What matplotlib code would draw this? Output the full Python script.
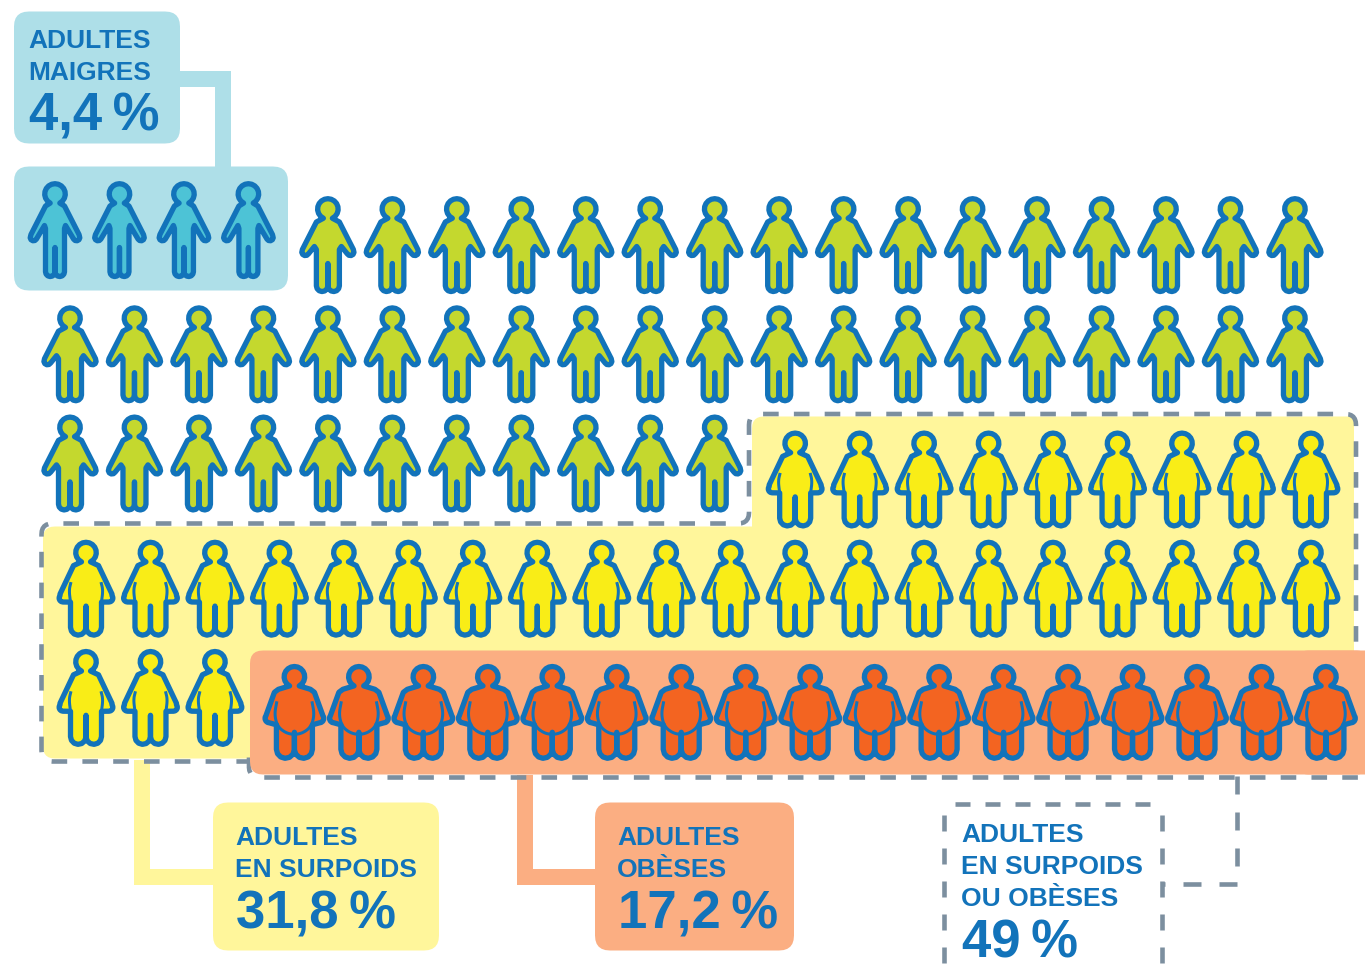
#!/usr/bin/env python3
"""Pictogram: 100 adults by weight class, one icon per percent (rounded)."""

import numpy as np
import matplotlib
matplotlib.use('Agg')
import matplotlib.pyplot as plt
from matplotlib.path import Path
from matplotlib.patches import PathPatch, Polygon

plt.rcParams['font.family'] = ['Liberation Sans', 'DejaVu Sans']

# === Data ===
categories = ['maigres', 'normaux', 'surpoids', 'obeses']
icon_counts = [4, 47, 32, 17]

label_maigres = ['ADULTES', 'MAIGRES']
label_surpoids = ['ADULTES', 'EN SURPOIDS']
label_obeses = ['ADULTES', 'OBÈSES']
label_cumul = ['ADULTES', 'EN SURPOIDS', 'OU OBÈSES']
pct_maigres = '4,4\u2009%'
pct_surpoids = '31,8\u2009%'
pct_obeses = '17,2\u2009%'
pct_cumul = '49\u2009%'

# === Style ===
PX = 72 / 100  # one pixel in points at dpi=100
BLUE = '#1273BA'
GREY = '#7C8F9F'
FILL = {'maigres': '#4DC3D6', 'normaux': '#C4D82E', 'surpoids': '#F9ED17', 'obeses': '#F36421'}
BG_MAIGRES = '#AEDFE8'
BG_SURPOIDS = '#FFF69B'
BG_OBESES = '#FBAE82'
PER_ROW = 20
STEP_X, STEP_Y = 64.47, 109.2
ORIGIN_X, ORIGIN_Y = 55, 182
SHIFT = {'maigres': 0, 'normaux': 15, 'surpoids': 31, 'obeses': 46}
DASH_LW = 4.6


def arc(cx, cy, r, a0, a1, n=9):
    a = np.radians(np.linspace(a0, a1, n))
    return [(cx + r * np.cos(t), cy + r * np.sin(t)) for t in a]


def rounded_path(pts, r, closed=False):
    """Polyline with sampled quadratic corners, r is one radius or one per point."""
    pts = np.asarray(pts, dtype=float)
    n = len(pts)
    rs = np.full(n, r, dtype=float) if np.isscalar(r) else np.asarray(r, dtype=float)
    out = [] if closed else [pts[0]]
    for i in (range(n) if closed else range(1, n - 1)):
        p, a, b = pts[i], pts[i - 1], pts[(i + 1) % n]
        da, db = np.linalg.norm(a - p), np.linalg.norm(b - p)
        c0 = p + (a - p) / da * min(rs[i], da / 2)
        c1 = p + (b - p) / db * min(rs[i], db / 2)
        for t in np.linspace(0, 1, 7):
            out.append((1 - t) ** 2 * c0 + 2 * t * (1 - t) * p + t ** 2 * c1)
    if closed:
        out.append(out[0])
    else:
        out.append(pts[-1])
    return Path(np.array(out), closed=closed)


def mirrored(half):
    # half runs from the top of the head to the crotch, both on x=0
    return half + [(-x, y) for x, y in reversed(half[1:-1])]


# Right half of each silhouette, pixels from the top centre of the icon
SHAPES = {
    'maigres': mirrored(
        arc(0, 12.5, 10.3, -90, 62)
        + [(9.5, 24.5), (24, 53)]
        + arc(21.5, 56, 3.3, -30, 150, 6)
        + [(10.5, 44), (9.5, 47), (9.5, 90.3)]
        + arc(4.75, 90.3, 4.75, 0, 175, 7)
        + [(0, 66)]),
    'normaux': mirrored(
        arc(0, 12.5, 10.3, -90, 64)
        + [(11.5, 25.5), (25.5, 53)]
        + arc(22.5, 55.5, 3.6, -30, 150, 6)
        + [(13.5, 50), (11.5, 53), (11.5, 89.3)]
        + arc(5.75, 89.3, 5.75, 0, 175, 7)
        + [(0, 67)]),
    'surpoids': mirrored(
        arc(0, 12.5, 10.3, -90, 64)
        + [(12.5, 25.5), (26, 54)]
        + arc(23, 58, 3.9, -40, 90, 6)
        + [(15.5, 62), (15.5, 87.3)]
        + arc(7.75, 87.3, 7.75, 0, 175, 7)
        + [(0, 66)]),
    'obeses': mirrored(
        arc(0, 12.5, 10.3, -90, 62)
        + [(16, 25), (20, 28), (28, 50)]
        + arc(24.8, 54, 4.6, -40, 90, 6)
        + [(18, 60.5), (18, 85)]
        + arc(9, 85, 9, 0, 175, 7)
        + [(0, 68)]),
}
# Inner lines (belly against arm)
BELLY = {
    'maigres': [],
    'normaux': [],
    'surpoids': [[(15, 42), (17, 50), (15.5, 62)], [(-15, 42), (-17, 50), (-15.5, 62)]],
    'obeses': [[(17.5, 37), (20, 50), (17, 62), (9, 68.5), (0, 70.5),
                (-9, 68.5), (-17, 62), (-20, 50), (-17.5, 37)]],
}


def draw_icon(ax, kind, x, y):
    verts = np.array(SHAPES[kind]) + [x, y]
    ax.add_patch(Polygon(verts, closed=True, facecolor=FILL[kind], edgecolor=BLUE,
                         linewidth=5.3 * PX, joinstyle='round', zorder=5))
    for line in BELLY[kind]:
        path = rounded_path(np.array(line) + [x, y], 7)
        ax.add_patch(PathPatch(path, facecolor='none', edgecolor=BLUE,
                               linewidth=3 * PX, capstyle='butt', zorder=6))


def box(ax, x0, y0, x1, y1, color, r=15, zorder=3):
    pts = [(x0, y0), (x1, y0), (x1, y1), (x0, y1)]
    ax.add_patch(PathPatch(rounded_path(pts, r, closed=True), facecolor=color,
                           edgecolor='none', zorder=zorder))


def connector(ax, xs, ys, color):
    ax.plot(xs, ys, color=color, linewidth=16 * PX, solid_joinstyle='miter',
            solid_capstyle='butt', zorder=2)


def dashed(ax, pts, r=0, on=15.6, off=15.2, start=0):
    # on, off and start in pixels, the patch scales its pattern by the line width
    style = (start / DASH_LW, (on / DASH_LW, off / DASH_LW))
    ax.add_patch(PathPatch(rounded_path(pts, r), facecolor='none', edgecolor=GREY,
                           linewidth=DASH_LW * PX, linestyle=style, capstyle='butt', zorder=2.5))


def caption(ax, x, baselines, lines, pct):
    for y, s in zip(baselines, lines):
        ax.text(x, y, s, color=BLUE, fontsize=19, fontweight='bold', va='baseline', ha='left', zorder=7)
    ax.text(x + 1, baselines[-1] + 51, pct, color=BLUE, fontsize=38, fontweight='bold',
            va='baseline', ha='left', zorder=7)


def main():
    fig = plt.figure(figsize=(13.65, 9.7), dpi=100)
    ax = fig.add_axes([0, 0, 1, 1])
    ax.set_xlim(0, 1365)
    ax.set_ylim(969.5, -0.5)
    ax.axis('off')

    # Backgrounds and outlines
    box(ax, 14, 167, 288, 291, BG_MAIGRES)
    box(ax, 14, 12, 180, 144, BG_MAIGRES)
    connector(ax, [180, 223, 223], [79, 79, 170], BG_MAIGRES)

    surpoids_pts = [(43, 527), (752, 527), (752, 417), (1354, 417), (1354, 759), (43, 759)]
    ax.add_patch(PathPatch(rounded_path(surpoids_pts, [12, 0, 12, 1, 1, 12], closed=True),
                           facecolor=BG_SURPOIDS, edgecolor='none', zorder=1))
    dashed(ax, [(252, 762), (41.5, 762), (41.5, 524), (749, 524), (749, 414.5),
                (1356, 414.5), (1356, 655)], r=11)
    dashed(ax, [(249, 758), (249, 778), (1365, 778)], r=14)
    box(ax, 250, 651, 1380, 775, BG_OBESES, r=13)
    box(ax, 1300, 651, 1365, 775, BG_OBESES, r=8)

    connector(ax, [142, 142, 216], [760, 877, 877], BG_SURPOIDS)
    box(ax, 213, 803, 439, 951, BG_SURPOIDS)
    connector(ax, [525, 525, 598], [775, 877, 877], BG_OBESES)
    box(ax, 595, 803, 794, 951, BG_OBESES)

    # Box of the cumulated class, each side starts on its own dash
    dashed(ax, [(943.5, 963), (943.5, 812)], on=16, off=17)
    dashed(ax, [(1161.5, 963), (1161.5, 812)], on=16, off=17)
    dashed(ax, [(955, 804.5), (1150, 804.5)], on=15, off=15)
    dashed(ax, [(1237, 776), (1237, 884), (1162, 884)], on=18, off=18)

    # One icon per percent, filled row by row
    kinds = [k for k, c in zip(categories, icon_counts) for _ in range(c)]
    for i, kind in enumerate(kinds):
        row, col = divmod(i, PER_ROW)
        x = ORIGIN_X + SHIFT[kind] + col * STEP_X
        y = ORIGIN_Y + SHIFT[kind] + row * STEP_Y
        draw_icon(ax, kind, x, y)

    caption(ax, 28, [47, 79], label_maigres, pct_maigres)
    caption(ax, 235, [845, 877], label_surpoids, pct_surpoids)
    caption(ax, 617, [845, 877], label_obeses, pct_obeses)
    caption(ax, 961, [842, 874, 906], label_cumul, pct_cumul)

    fig.savefig('out.png', dpi=100, facecolor='white')


if __name__ == "__main__":
    main()
